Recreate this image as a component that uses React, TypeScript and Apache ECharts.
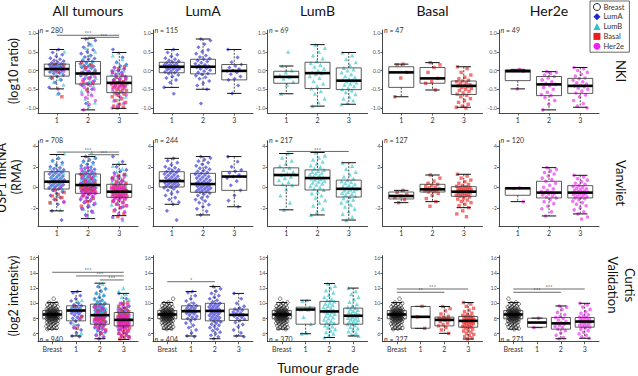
import React, { useEffect, useRef } from "react";
import * as echarts from "echarts";

// ---------- labels ----------
const COLUMN_TITLES = ["All tumours", "LumA", "LumB", "Basal", "Her2e"];
const SUBTYPES = ["LumA", "LumB", "Basal", "Her2e"];
const GRADE_LABELS = ["1", "2", "3"];
const CURTIS_LABELS = ["Breast", "1", "2", "3"];
const N_NKI = [280, 115, 69, 47, 49];
const N_VANVLIET = [708, 244, 217, 127, 120];
const N_CURTIS = [940, 404, 370, 327, 271];
const Y_TICKS_NKI = [-1, -0.5, 0, 0.5, 1];
const Y_TICKS_VANVLIET = [-2, 0, 2, 4];
const Y_TICKS_CURTIS = [6, 8, 10, 12, 14, 16];

// ---------- box statistics [min, q1, median, q3, max] per grade ----------
const NKI_BOX_ALL = [[-0.49, -0.15, 0.04, 0.17, 0.56], [-1.05, -0.36, -0.08, 0.24, 0.86], [-1.01, -0.59, -0.33, -0.15, 0.48]];
const NKI_BOX_LUMA = [[-0.45, -0.06, 0.1, 0.22, 0.56], [-0.5, -0.09, 0.1, 0.3, 0.84], [-0.61, -0.25, -0.01, 0.16, 0.56]];
const NKI_BOX_LUMB = [[-0.62, -0.34, -0.17, -0.02, 0.12], [-0.95, -0.48, -0.07, 0.22, 0.69], [-0.9, -0.51, -0.27, 0.07, 0.48]];
const NKI_BOX_BASAL = [[-0.7, -0.45, -0.05, 0.1, 0.17], [-0.52, -0.34, -0.21, 0.08, 0.21], [-0.98, -0.64, -0.41, -0.28, 0.1]];
const NKI_BOX_HER2E = [[-0.49, -0.27, -0.02, 0.02, 0.03], [-1.05, -0.67, -0.37, -0.16, -0.03], [-0.98, -0.61, -0.41, -0.21, 0.08]];

const VAN_BOX_ALL = [[-2.3, -0.17, 0.55, 1.52, 3.2], [-3.06, -0.59, 0.22, 1.3, 3.0], [-2.77, -0.98, -0.43, 0.29, 2.24]];
const VAN_BOX_LUMA = [[-1.66, 0.03, 0.61, 1.52, 2.83], [-2.7, -0.49, 0.32, 1.36, 3.0], [-1.9, -0.3, 1.05, 1.55, 3.0]];
const VAN_BOX_LUMB = [[-2.2, 0.2, 1.2, 1.9, 3.3], [-2.7, -0.26, 0.9, 1.7, 3.4], [-3.2, -0.95, -0.15, 0.7, 2.4]];
const VAN_BOX_BASAL = [[-1.5, -1.14, -0.85, -0.46, -0.3], [-1.4, -0.46, -0.2, 0.29, 1.2], [-1.99, -0.88, -0.43, 0.06, 1.27]];
const VAN_BOX_HER2E = [[-1.4, -0.78, -0.1, -0.05, -0.05], [-2.8, -1.04, -0.52, 0.59, 1.92], [-2.6, -1.04, -0.52, 0.16, 1.17]];

const CURTIS_BOX_BREAST = [6.6, 7.96, 8.53, 9.05, 10.1];
const CURTIS_BOX_ALL = [[5.7, 7.69, 9.05, 9.67, 11.55], [5.34, 7.25, 8.44, 9.89, 12.65], [5.25, 7.03, 7.82, 8.79, 11.3]];
const CURTIS_BOX_LUMA = [[5.7, 7.91, 8.96, 9.67, 11.55], [5.34, 7.69, 9.0, 10.0, 12.2], [5.7, 7.74, 8.48, 9.23, 11.3]];
const CURTIS_BOX_LUMB = [[6.0, 7.25, 9.18, 9.49, 10.4], [5.5, 7.25, 8.93, 10.25, 12.6], [5.7, 7.25, 8.36, 9.37, 12.0]];
const CURTIS_BOX_BASAL = [[6.7, 6.72, 8.22, 9.58, 9.6], [6.05, 7.03, 7.82, 8.18, 9.58], [5.3, 6.86, 7.69, 8.27, 10.1]];
const CURTIS_BOX_HER2E = [[6.8, 6.86, 7.47, 8.04, 8.05], [5.34, 6.6, 7.36, 8.13, 9.65], [5.4, 6.86, 7.6, 8.13, 10.0]];

// ---------- individual samples per grade ----------
const NKI_PTS_LUMA = [
  [0.56, 0.48, 0.42, 0.38, 0.33, 0.3, 0.27, 0.25, 0.22, 0.2, 0.18, 0.16, 0.15, 0.13, 0.12, 0.11, 0.1, 0.09, 0.08, 0.06, 0.05, 0.04, 0.02, 0.0, -0.02, -0.04, -0.06, -0.08, -0.12, -0.16, -0.2, -0.25, -0.32, -0.45, -0.62],
  [0.84, 0.8, 0.7, 0.62, 0.55, 0.5, 0.45, 0.4, 0.36, 0.32, 0.3, 0.27, 0.24, 0.21, 0.18, 0.15, 0.13, 0.11, 0.1, 0.08, 0.06, 0.04, 0.01, -0.02, -0.05, -0.08, -0.1, -0.14, -0.18, -0.22, -0.28, -0.34, -0.4, -0.5, -0.88],
  [0.56, 0.35, 0.22, 0.16, 0.12, 0.08, 0.04, 0.0, -0.01, -0.05, -0.1, -0.16, -0.22, -0.25, -0.4, -0.61],
];
const NKI_PTS_LUMB = [
  [0.5, 0.12, 0.0, -0.05, -0.12, -0.17, -0.22, -0.3, -0.38, -0.62],
  [0.69, 0.6, 0.5, 0.4, 0.32, 0.25, 0.2, 0.15, 0.1, 0.05, 0.0, -0.04, -0.07, -0.1, -0.15, -0.2, -0.28, -0.35, -0.42, -0.48, -0.55, -0.62, -0.75, -0.85, -0.95],
  [0.48, 0.4, 0.3, 0.22, 0.15, 0.07, 0.03, 0.0, -0.05, -0.1, -0.15, -0.18, -0.22, -0.25, -0.27, -0.29, -0.32, -0.35, -0.38, -0.42, -0.46, -0.5, -0.53, -0.58, -0.63, -0.7, -0.75, -0.8, -0.86, -0.9],
];
const NKI_PTS_BASAL = [
  [0.17, 0.15, -0.05, -0.2, -0.7],
  [0.21, 0.15, 0.08, -0.05, -0.21, -0.3, -0.34, -0.52],
  [0.1, 0.05, -0.05, -0.12, -0.18, -0.22, -0.26, -0.28, -0.3, -0.33, -0.35, -0.38, -0.4, -0.41, -0.43, -0.45, -0.48, -0.5, -0.53, -0.56, -0.6, -0.63, -0.66, -0.7, -0.75, -0.8, -0.85, -0.9, -0.95, -0.98, -1.0],
];
const NKI_PTS_HER2E = [
  [0.03, 0.0, -0.02, -0.49],
  [-0.03, -0.05, -0.08, -0.12, -0.16, -0.2, -0.25, -0.3, -0.35, -0.37, -0.4, -0.45, -0.5, -0.58, -0.64, -0.67, -0.72, -0.8, -0.9, -1.05],
  [0.08, 0.05, 0.0, -0.05, -0.1, -0.15, -0.2, -0.22, -0.26, -0.3, -0.33, -0.36, -0.4, -0.41, -0.43, -0.47, -0.5, -0.55, -0.6, -0.65, -0.7, -0.8, -0.88, -0.95, -1.0],
];

const VAN_PTS_LUMA = [
  [2.83, 2.6, 2.4, 2.2, 2.0, 1.9, 1.8, 1.7, 1.6, 1.52, 1.45, 1.38, 1.3, 1.22, 1.15, 1.08, 1.0, 0.92, 0.85, 0.78, 0.72, 0.66, 0.61, 0.55, 0.5, 0.44, 0.38, 0.32, 0.26, 0.2, 0.14, 0.08, 0.03, -0.05, -0.15, -0.3, -0.45, -0.6, -0.8, -1.0, -1.2, -1.45, -1.66, -2.3, -3.2],
  [3.0, 2.85, 2.7, 2.55, 2.4, 2.25, 2.1, 1.95, 1.85, 1.75, 1.65, 1.55, 1.45, 1.36, 1.28, 1.2, 1.12, 1.05, 0.98, 0.9, 0.82, 0.75, 0.68, 0.6, 0.52, 0.46, 0.4, 0.35, 0.32, 0.28, 0.22, 0.16, 0.1, 0.04, -0.02, -0.08, -0.14, -0.2, -0.26, -0.32, -0.38, -0.44, -0.49, -0.58, -0.68, -0.8, -0.92, -1.05, -1.2, -1.35, -1.5, -1.7, -1.9, -2.1, -2.35, -2.7],
  [3.0, 2.5, 2.0, 1.7, 1.55, 1.4, 1.2, 1.05, 0.9, 0.6, 0.2, -0.3, -0.8, -1.3, -1.9],
];
const VAN_PTS_LUMB = [
  [3.3, 2.9, 2.6, 2.3, 2.1, 1.9, 1.7, 1.5, 1.35, 1.2, 1.05, 0.9, 0.7, 0.5, 0.3, 0.2, -0.2, -0.8, -1.5, -2.2],
  [3.4, 3.1, 2.9, 2.7, 2.5, 2.3, 2.15, 2.0, 1.85, 1.7, 1.6, 1.5, 1.42, 1.35, 1.25, 1.15, 1.05, 0.98, 0.92, 0.88, 0.82, 0.75, 0.65, 0.55, 0.45, 0.35, 0.25, 0.12, 0.0, -0.12, -0.26, -0.4, -0.6, -0.8, -1.0, -1.25, -1.5, -1.8, -2.1, -2.4, -2.7],
  [2.4, 2.1, 1.8, 1.5, 1.25, 1.05, 0.88, 0.7, 0.6, 0.5, 0.4, 0.3, 0.2, 0.1, 0.0, -0.08, -0.15, -0.22, -0.3, -0.38, -0.46, -0.55, -0.65, -0.75, -0.85, -0.95, -1.05, -1.2, -1.35, -1.5, -1.7, -1.9, -2.1, -2.35, -2.6, -2.9, -3.2],
];
const VAN_PTS_BASAL = [
  [-0.3, -0.5, -0.7, -0.85, -1.0, -1.2, -1.5],
  [1.2, 0.9, 0.6, 0.4, 0.29, 0.2, 0.1, 0.02, -0.05, -0.12, -0.18, -0.2, -0.24, -0.3, -0.36, -0.42, -0.46, -0.6, -0.8, -1.1, -1.4, -1.85],
  [1.27, 1.1, 0.9, 0.7, 0.55, 0.4, 0.28, 0.18, 0.1, 0.06, 0.02, -0.03, -0.08, -0.13, -0.18, -0.22, -0.26, -0.3, -0.34, -0.38, -0.41, -0.43, -0.46, -0.5, -0.54, -0.58, -0.62, -0.67, -0.72, -0.78, -0.83, -0.88, -0.95, -1.05, -1.15, -1.25, -1.38, -1.5, -1.65, -1.8, -1.99, -2.3, -2.6, -2.87],
];
const VAN_PTS_HER2E = [
  [-0.05, -0.12, -1.4],
  [1.92, 1.75, 1.6, 1.45, 1.3, 1.1, 0.9, 0.75, 0.59, 0.4, 0.2, 0.0, -0.15, -0.3, -0.42, -0.5, -0.52, -0.58, -0.66, -0.75, -0.85, -0.95, -1.04, -1.2, -1.4, -1.6, -1.85, -2.1, -2.4, -2.8],
  [1.17, 1.0, 0.85, 0.7, 0.55, 0.4, 0.28, 0.16, 0.08, 0.0, -0.08, -0.15, -0.22, -0.3, -0.36, -0.42, -0.48, -0.52, -0.56, -0.6, -0.66, -0.72, -0.78, -0.85, -0.92, -0.98, -1.04, -1.12, -1.22, -1.35, -1.5, -1.65, -1.8, -2.0, -2.2, -2.4, -2.6, -2.9, -3.1],
];

const CURTIS_PTS_BREAST = [
  10.6, 10.1, 10.0, 9.9, 9.8, 9.7, 9.62, 9.55, 9.48, 9.42, 9.36, 9.3, 9.25, 9.2, 9.16, 9.12, 9.08, 9.05, 9.02, 9.0, 8.97, 8.95, 8.92, 8.9, 8.87, 8.85, 8.82, 8.8, 8.77, 8.75, 8.72, 8.7, 8.68, 8.66, 8.64, 8.62, 8.6, 8.58, 8.56, 8.55, 8.54, 8.53, 8.52, 8.5, 8.48, 8.47, 8.45, 8.44, 8.42, 8.4, 8.38, 8.36, 8.34, 8.32, 8.3, 8.28, 8.26, 8.24, 8.22, 8.2, 8.17, 8.15, 8.12, 8.1, 8.07, 8.05, 8.02, 8.0, 7.98, 7.96, 7.93, 7.9, 7.86, 7.82, 7.78, 7.74, 7.7, 7.65, 7.6, 7.55, 7.5, 7.45, 7.38, 7.32, 7.26, 7.2, 7.12, 7.05, 6.98, 6.9, 6.82, 6.75, 6.68, 6.6,
];
const CURTIS_PTS_LUMA = [
  [11.55, 11.4, 11.0, 10.6, 10.3, 10.0, 9.8, 9.67, 9.5, 9.4, 9.3, 9.2, 9.1, 9.0, 8.96, 8.9, 8.8, 8.7, 8.6, 8.45, 8.3, 8.15, 8.0, 7.91, 7.7, 7.4, 7.1, 6.8, 6.5, 6.1, 5.7, 5.6],
  [12.2, 11.9, 11.6, 11.3, 11.0, 10.8, 10.6, 10.4, 10.2, 10.0, 9.9, 9.8, 9.7, 9.6, 9.5, 9.4, 9.3, 9.2, 9.1, 9.05, 9.0, 8.95, 8.9, 8.8, 8.7, 8.6, 8.5, 8.4, 8.3, 8.2, 8.1, 8.0, 7.9, 7.8, 7.69, 7.55, 7.4, 7.25, 7.1, 6.95, 6.8, 6.6, 6.4, 6.2, 6.0, 5.8, 5.6, 5.34],
  [11.3, 10.6, 10.0, 9.6, 9.4, 9.23, 9.1, 9.0, 8.85, 8.7, 8.6, 8.48, 8.4, 8.3, 8.15, 8.0, 7.9, 7.74, 7.5, 7.2, 6.9, 6.5, 6.1, 5.7, 5.6],
];
const CURTIS_PTS_LUMB = [
  [10.4, 10.3, 9.5, 9.3, 9.2, 9.18, 8.2, 7.25, 6.1, 6.0],
  [12.6, 12.3, 12.0, 11.7, 11.4, 11.1, 10.8, 10.55, 10.4, 10.25, 10.1, 9.95, 9.8, 9.65, 9.5, 9.35, 9.2, 9.1, 9.0, 8.93, 8.85, 8.75, 8.6, 8.45, 8.3, 8.15, 8.0, 7.85, 7.7, 7.55, 7.4, 7.25, 7.1, 6.95, 6.8, 6.6, 6.4, 6.2, 6.0, 5.8, 5.5],
  [12.0, 11.6, 11.2, 10.8, 10.5, 10.2, 9.9, 9.65, 9.5, 9.37, 9.25, 9.12, 9.0, 8.88, 8.76, 8.64, 8.52, 8.44, 8.36, 8.28, 8.18, 8.08, 7.98, 7.88, 7.78, 7.66, 7.54, 7.42, 7.32, 7.25, 7.1, 6.9, 6.7, 6.5, 6.3, 6.1, 5.9, 5.7],
];
const CURTIS_PTS_BASAL = [
  [9.6, 8.22, 6.7],
  [9.58, 9.3, 9.0, 8.6, 8.3, 8.18, 8.05, 7.95, 7.87, 7.82, 7.75, 7.6, 7.4, 7.2, 7.03, 6.8, 6.5, 6.05],
  [10.1, 9.9, 9.6, 9.35, 9.1, 8.9, 8.7, 8.55, 8.42, 8.3, 8.27, 8.2, 8.12, 8.05, 7.98, 7.9, 7.83, 7.77, 7.72, 7.69, 7.64, 7.58, 7.5, 7.42, 7.34, 7.26, 7.18, 7.1, 7.02, 6.94, 6.86, 6.75, 6.62, 6.5, 6.35, 6.2, 6.05, 5.9, 5.75, 5.6, 5.45, 5.3],
];
const CURTIS_PTS_HER2E = [
  [8.05, 6.8],
  [9.65, 9.5, 9.2, 8.8, 8.5, 8.3, 8.13, 8.0, 7.8, 7.6, 7.45, 7.36, 7.25, 7.1, 6.95, 6.8, 6.6, 6.4, 6.1, 5.8, 5.5, 5.34],
  [10.0, 9.8, 9.5, 9.2, 8.9, 8.7, 8.5, 8.35, 8.2, 8.13, 8.05, 7.95, 7.85, 7.75, 7.68, 7.6, 7.54, 7.46, 7.38, 7.3, 7.2, 7.1, 7.0, 6.92, 6.86, 6.75, 6.6, 6.4, 6.2, 6.0, 5.8, 5.6, 5.4],
];

// significance brackets: [panel, fromX, toX, y, stars]
const SIG_BARS: [number, number, number, number, string][] = [
  [0, 1, 3, 0.94, "***"],
  [0, 2, 3, 0.885, "***"],
  [5, 1, 3, 3.44, "***"],
  [5, 2, 3, 3.18, "***"],
  [7, 1, 3, 3.5, "***"],
  [10, 1, 4, 14.08, "***"],
  [10, 2, 4, 13.6, "***"],
  [10, 3, 4, 13.07, "***"],
  [11, 1, 3, 12.84, "*"],
  [13, 1, 4, 11.88, "***"],
  [13, 1, 3, 11.45, "**"],
  [14, 1, 4, 11.88, "***"],
  [14, 1, 3, 11.45, "***"],
];

// ---------- styling ----------
const FONT = "Lato";
const COLORS: Record<string, string> = {
  Breast: "#111111",
  LumA: "#2424d6",
  LumB: "#28c2c8",
  Basal: "#ee1c1c",
  Her2e: "#ee22ee",
};
const SYMBOLS: Record<string, string> = {
  Breast: "circle",
  LumA: "diamond",
  LumB: "triangle",
  Basal: "rect",
  Her2e: "circle",
};
const SYMBOL_SIZE: Record<string, number> = { Breast: 3.6, LumA: 4.2, LumB: 4.2, Basal: 3.4, Her2e: 3.6 };

const COL_LEFT = [38, 153, 267.5, 382.5, 499];
const PANEL_W = 100;
const ROW_TOP = [30, 140.7, 255.7];
const ROW_H = [83, 85.3, 86];
const ROW_RANGE = [[-1.133, 1.08], [-3.78, 4.55], [4.95, 16.26]];

function jitter(i: number, phase: number) {
  const f = ((i + 1) * 0.6180339887 + phase * 0.37) % 1;
  return (f - 0.5) * 0.5;
}

function buildOption() {
  const nkiBoxes = [NKI_BOX_ALL, NKI_BOX_LUMA, NKI_BOX_LUMB, NKI_BOX_BASAL, NKI_BOX_HER2E];
  const vanBoxes = [VAN_BOX_ALL, VAN_BOX_LUMA, VAN_BOX_LUMB, VAN_BOX_BASAL, VAN_BOX_HER2E];
  const curBoxes = [CURTIS_BOX_ALL, CURTIS_BOX_LUMA, CURTIS_BOX_LUMB, CURTIS_BOX_BASAL, CURTIS_BOX_HER2E];
  const nkiPts = [NKI_PTS_LUMA, NKI_PTS_LUMB, NKI_PTS_BASAL, NKI_PTS_HER2E];
  const vanPts = [VAN_PTS_LUMA, VAN_PTS_LUMB, VAN_PTS_BASAL, VAN_PTS_HER2E];
  const curPts = [CURTIS_PTS_LUMA, CURTIS_PTS_LUMB, CURTIS_PTS_BASAL, CURTIS_PTS_HER2E];
  const boxesByRow = [nkiBoxes, vanBoxes, curBoxes];
  const ptsByRow = [nkiPts, vanPts, curPts];
  const ticksByRow = [Y_TICKS_NKI, Y_TICKS_VANVLIET, Y_TICKS_CURTIS];
  const nByRow = [N_NKI, N_VANVLIET, N_CURTIS];

  const grids: any[] = [];
  const xAxes: any[] = [];
  const yAxes: any[] = [];
  const series: any[] = [];
  const graphics: any[] = [];

  for (let r = 0; r < 3; r++) {
    for (let c = 0; c < 5; c++) {
      const idx = r * 5 + c;
      const cats = r === 2 ? CURTIS_LABELS : GRADE_LABELS;
      const offset = r === 2 ? 1 : 0; // Curtis rows start with the normal breast group
      const catPos = cats.map((_, i) => i + 1);
      grids.push({ left: COL_LEFT[c], top: ROW_TOP[r], width: PANEL_W, height: ROW_H[r] });
      xAxes.push({
        type: "value",
        gridIndex: idx,
        min: 0.4,
        max: cats.length + 0.6,
        axisLine: { show: true, onZero: false, lineStyle: { color: "#333", width: 0.9 } },
        axisTick: { show: true, customValues: catPos, length: 2.5, lineStyle: { color: "#333", width: 0.8 } },
        axisLabel: {
          customValues: catPos,
          formatter: (v: number) => cats[Math.round(v) - 1] ?? "",
          fontSize: 7,
          color: "#333",
          margin: 3.5,
          fontFamily: FONT,
        },
        splitLine: { show: false },
      });
      const ticks = ticksByRow[r];
      yAxes.push({
        type: "value",
        gridIndex: idx,
        min: ROW_RANGE[r][0],
        max: ROW_RANGE[r][1],
        axisLine: { show: true, onZero: false, lineStyle: { color: "#333", width: 0.9 } },
        axisTick: { show: true, customValues: ticks, length: 2, lineStyle: { color: "#333", width: 0.8 } },
        axisLabel: {
          customValues: ticks,
          formatter: (v: number) => (r === 0 ? v.toFixed(1) : String(v)),
          fontSize: 5.5,
          color: "#555",
          margin: 2,
          fontFamily: FONT,
        },
        splitLine: { show: false },
      });

      // jittered samples
      const groups = c === 0 ? SUBTYPES.map((s, k) => ({ name: s, pts: ptsByRow[r][k] })) : [{ name: SUBTYPES[c - 1], pts: ptsByRow[r][c - 1] }];
      if (r === 2) {
        series.push({
          type: "scatter",
          name: "Breast",
          xAxisIndex: idx,
          yAxisIndex: idx,
          symbol: SYMBOLS.Breast,
          symbolSize: SYMBOL_SIZE.Breast,
          itemStyle: { color: "rgba(255,255,255,0)", borderColor: COLORS.Breast, borderWidth: 0.6, opacity: 0.9 },
          data: CURTIS_PTS_BREAST.map((v, i) => [1 + jitter(i, c), v]),
          z: 2,
        });
      }
      groups.forEach((g, k) => {
        const data: number[][] = [];
        g.pts.forEach((vals, gi) => {
          vals.forEach((v, i) => data.push([gi + 1 + offset + jitter(i, k + gi * 2), v]));
        });
        series.push({
          type: "scatter",
          name: g.name,
          xAxisIndex: idx,
          yAxisIndex: idx,
          symbol: SYMBOLS[g.name],
          symbolSize: SYMBOL_SIZE[g.name],
          itemStyle: { color: COLORS[g.name], opacity: 0.62 },
          data,
          z: 2,
        });
      });

      // box plots
      const boxData: number[][] = boxesByRow[r][c].map((b, gi) => [gi + 1 + offset, ...b]);
      if (r === 2) boxData.unshift([1, ...CURTIS_BOX_BREAST]);
      series.push({
        type: "custom",
        xAxisIndex: idx,
        yAxisIndex: idx,
        z: 3,
        silent: true,
        data: boxData,
        renderItem: (_p: any, api: any) => {
          const x = api.value(0);
          const [mn, q1, md, q3, mx] = [1, 2, 3, 4, 5].map((i) => api.value(i));
          const half = api.size([0.8, 0])[0] / 2;
          const cap = api.size([0.46, 0])[0] / 2;
          const pMin = api.coord([x, mn]);
          const pQ1 = api.coord([x, q1]);
          const pMd = api.coord([x, md]);
          const pQ3 = api.coord([x, q3]);
          const pMax = api.coord([x, mx]);
          const cx = pMd[0];
          const whisker = { stroke: "#222", lineWidth: 0.8, lineDash: [2, 1.4] };
          const capStyle = { stroke: "#111", lineWidth: 1 };
          return {
            type: "group",
            children: [
              { type: "line", shape: { x1: cx, y1: pMax[1], x2: cx, y2: pQ3[1] }, style: whisker },
              { type: "line", shape: { x1: cx, y1: pQ1[1], x2: cx, y2: pMin[1] }, style: whisker },
              { type: "line", shape: { x1: cx - cap, y1: pMax[1], x2: cx + cap, y2: pMax[1] }, style: capStyle },
              { type: "line", shape: { x1: cx - cap, y1: pMin[1], x2: cx + cap, y2: pMin[1] }, style: capStyle },
              {
                type: "rect",
                shape: { x: cx - half, y: pQ3[1], width: half * 2, height: Math.max(pQ1[1] - pQ3[1], 0.5) },
                style: { fill: "none", stroke: "#333", lineWidth: 0.8 },
              },
              { type: "line", shape: { x1: cx - half, y1: pMd[1], x2: cx + half, y2: pMd[1] }, style: { stroke: "#000", lineWidth: 2.6 } },
            ],
          };
        },
      });

      // significance brackets
      const sig = SIG_BARS.filter((s) => s[0] === idx);
      if (sig.length) {
        series.push({
          type: "custom",
          xAxisIndex: idx,
          yAxisIndex: idx,
          z: 4,
          silent: true,
          data: sig.map((s) => [s[1], s[2], s[3]]),
          renderItem: (p: any, api: any) => {
            const a = api.coord([api.value(0), api.value(2)]);
            const b = api.coord([api.value(1), api.value(2)]);
            return {
              type: "group",
              children: [
                { type: "line", shape: { x1: a[0], y1: a[1], x2: b[0], y2: b[1] }, style: { stroke: "#444", lineWidth: 0.8 } },
                {
                  type: "text",
                  x: (a[0] + b[0]) / 2,
                  y: a[1] + 1.2,
                  style: { text: sig[p.dataIndex][4], fontSize: 5.5, fill: "#444", align: "center", verticalAlign: "bottom", fontFamily: FONT },
                },
              ],
            };
          },
        });
      }

      // sample size
      const nY = r === 2 ? ROW_TOP[r] + ROW_H[r] - 3 : ROW_TOP[r] - 0.5;
      graphics.push({
        type: "text",
        x: COL_LEFT[c] + 1.5,
        y: nY,
        z: 10,
        style: {
          text: `{i|n} = ${nByRow[r][c]}`,
          fontSize: 7,
          fill: "#333",
          fontFamily: FONT,
          verticalAlign: "middle",
          rich: { i: { fontStyle: "italic", fontSize: 7, fill: "#333", fontFamily: FONT } },
        },
      });
    }
  }

  // column titles
  COLUMN_TITLES.forEach((t, c) => {
    graphics.push({
      type: "text",
      x: COL_LEFT[c] + PANEL_W / 2,
      y: 10,
      style: { text: t, fontSize: 14, fill: "#111", fontFamily: FONT, align: "center", verticalAlign: "middle" },
    });
  });

  // dataset labels on the right
  const rowLabel = (text: string, x: number, y: number) => ({
    type: "text",
    x,
    y,
    rotation: -Math.PI / 2,
    style: { text, fontSize: 13, fill: "#111", fontFamily: FONT, align: "center", verticalAlign: "middle", lineHeight: 17 },
  });
  graphics.push(rowLabel("NKI", 621, 71));
  graphics.push(rowLabel("Vanvliet", 621, 183));
  graphics.push(rowLabel("Curtis\nValidation", 621.5, 285));

  // y-axis titles on the left
  const axisTitle = (text: string, x: number, y: number) => ({
    type: "text",
    x,
    y,
    rotation: Math.PI / 2,
    style: { text, fontSize: 12.5, fill: "#111", fontFamily: FONT, align: "center", verticalAlign: "middle" },
  });
  graphics.push(axisTitle("(log10 ratio)", 13, 71));
  graphics.push(axisTitle("USP1 mRNA", 1.5, 178));
  graphics.push(axisTitle("(RMA)", 16, 177));
  graphics.push(axisTitle("(log2 intensity)", 13, 296));

  graphics.push({
    type: "text",
    x: 318,
    y: 368,
    style: { text: "Tumour grade", fontSize: 13.5, fill: "#111", fontFamily: FONT, align: "center", verticalAlign: "middle" },
  });

  return {
    animation: false,
    backgroundColor: "#ffffff",
    textStyle: { fontFamily: FONT },
    grid: grids,
    xAxis: xAxes,
    yAxis: yAxes,
    series,
    graphic: graphics,
    legend: {
      orient: "vertical",
      left: 590,
      top: 1,
      itemWidth: 7,
      itemHeight: 7,
      itemGap: 1.8,
      padding: [2, 5, 2, 3],
      borderColor: "#444",
      borderWidth: 0.8,
      borderRadius: 0,
      backgroundColor: "#fff",
      textStyle: { fontSize: 7.5, color: "#333", fontFamily: FONT, padding: [0, 0, 0, -2] },
      data: [
        { name: "Breast", itemStyle: { opacity: 1, color: "#fff", borderColor: "#111", borderWidth: 0.9 } },
        { name: "LumA", itemStyle: { opacity: 1 } },
        { name: "LumB", itemStyle: { opacity: 1 } },
        { name: "Basal", itemStyle: { opacity: 1 } },
        { name: "Her2e", itemStyle: { opacity: 1 } },
      ],
    },
  };
}

export default function App() {
  const ref = useRef<HTMLDivElement>(null);
  useEffect(() => {
    if (!ref.current) return;
    const chart = echarts.init(ref.current, undefined, { renderer: "svg" });
    chart.setOption(buildOption() as any);
    return () => chart.dispose();
  }, []);
  return <div ref={ref} style={{ position: "absolute", left: 0, top: 0, width: 638, height: 376 }} />;
}
